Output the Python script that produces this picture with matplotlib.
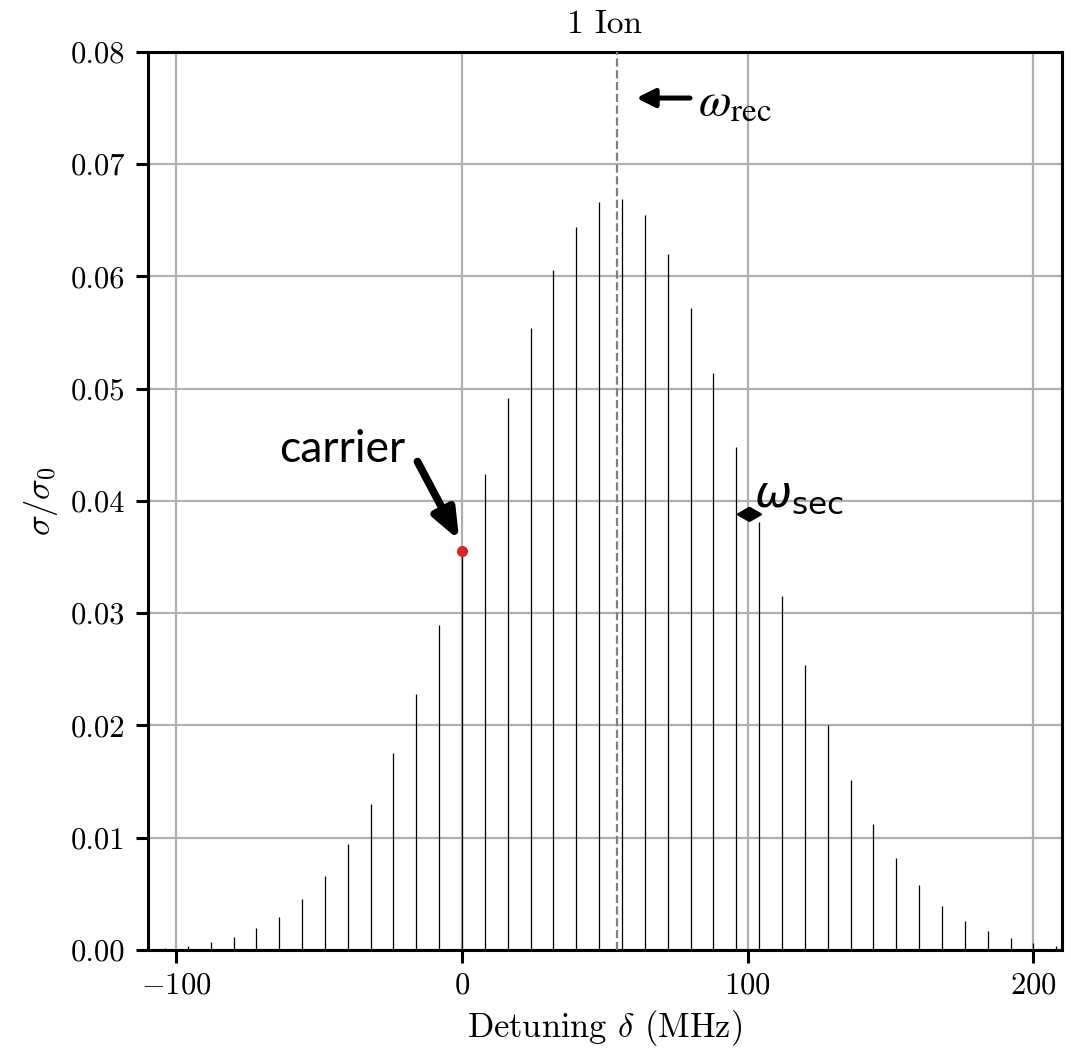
import numpy as np
import matplotlib
matplotlib.use("Agg")
import matplotlib.pyplot as plt

plt.rcParams["font.family"] = "serif"
plt.rcParams["font.serif"] = ["cmr10"]
plt.rcParams["mathtext.fontset"] = "cm"
plt.rcParams["axes.formatter.use_mathtext"] = True
plt.rcParams["font.size"] = 11

# sideband positions (MHz), spaced by the secular frequency
detuning = np.arange(-104, 209, 8)
# relative cross section
cross_section = [
    0.00015, 0.00036, 0.0007, 0.00116, 0.0019, 0.0029, 0.0045, 0.0066,
    0.0094, 0.0130, 0.0175, 0.0228, 0.0289, 0.0355, 0.0424, 0.0492,
    0.0554, 0.0606, 0.0644, 0.0666, 0.0669, 0.0655, 0.0620, 0.0572,
    0.0514, 0.0448, 0.0381, 0.0315, 0.0254, 0.0200, 0.0151, 0.0112,
    0.0082, 0.0058, 0.0039, 0.0026, 0.0017, 0.00104, 0.0006, 0.00036,
]
recoil_shift = 54.3
carrier_x, carrier_y = 0, 0.0355

fig = plt.figure(figsize=(5.355, 5.265), dpi=200)
ax = fig.add_axes([0.138, 0.098, 0.8536, 0.8526])

ax.grid(True, color="#b0b0b0", linewidth=0.8, zorder=0)
ax.vlines(detuning, 0, cross_section, colors="k", linewidth=0.45, zorder=2)
ax.axvline(recoil_shift, color="gray", linestyle="--", linewidth=0.8, zorder=3)
ax.plot([carrier_x], [carrier_y], "o", color="#d62728", markersize=3, zorder=4)

ax.set_xlim(-110, 210)
ax.set_ylim(0, 0.08)
ax.set_xticks([-100, 0, 100, 200])
ax.set_yticks(np.arange(0, 0.081, 0.01))
ax.yaxis.set_major_formatter(matplotlib.ticker.FormatStrFormatter("%.2f"))
for s in ax.spines.values():
    s.set_linewidth(1.1)
ax.tick_params(length=4.5, width=1.1, top=False, right=False)

ax.set_title("1 Ion", pad=7, fontsize=12)
ax.set_xlabel(r"Detuning $\delta$ (MHz)", fontsize=12.4, labelpad=3)
ax.set_ylabel(r"$\sigma/\sigma_0$", fontsize=12.4)

# annotations added on top of the plot
ax.text(-42, 0.0446, "carrier", fontsize=16, family="Lato",
        ha="center", va="center")
ax.annotate("", xy=(-1.0, 0.0365), xytext=(-15.6, 0.0435),
            arrowprops=dict(arrowstyle="-|>,head_width=0.32,head_length=0.8",
                            color="k", lw=2.8, shrinkA=0, shrinkB=0))
ax.annotate("", xy=(61.0, 0.0759), xytext=(79.8, 0.0759),
            arrowprops=dict(arrowstyle="-|>,head_width=0.25,head_length=0.5",
                            color="k", lw=1.8, shrinkA=0, shrinkB=0))
ax.text(82.5, 0.0754, r"$\omega_{\mathrm{rec}}$", fontsize=17,
        math_fontfamily="stix", ha="left", va="center")
ax.annotate("", xy=(95.8, 0.0388), xytext=(105.4, 0.0388),
            arrowprops=dict(arrowstyle="<|-|>,head_width=0.2,head_length=0.35",
                            color="k", lw=1.0, shrinkA=0, shrinkB=0))
ax.text(102.2, 0.0404, r"$\omega_{\mathrm{sec}}$", fontsize=16,
        math_fontfamily="dejavusans", ha="left", va="center")

fig.savefig("out.png", dpi=200)
